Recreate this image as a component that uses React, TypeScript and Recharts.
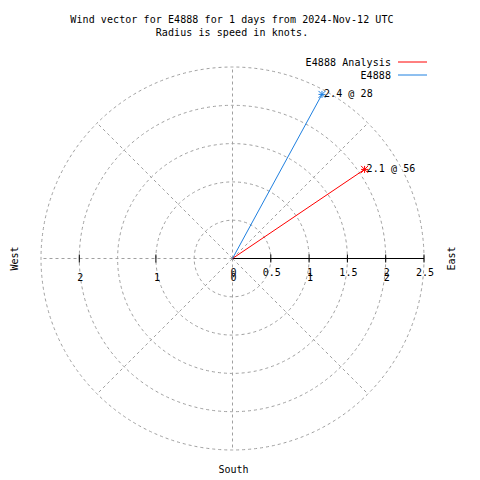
import React from 'react';
import * as R from 'recharts';

const { ScatterChart, Scatter, XAxis, YAxis } = R as any;

// ---- data ----
const seriesNames = ['E4888 Analysis', 'E4888'];
const seriesColors = ['#ff0000', '#1f80e0'];
const speeds = [2.08, 2.44]; // knots
const directions = [56, 28.6]; // degrees (compass, from north)
const ringValues = [0.5, 1, 1.5, 2, 2.5];
const spokeAngles = [0, 45, 90, 135, 180, 225, 270, 315];
const rTicks = [0.5, 1, 1.5, 2, 2.5];
const rTickLabels = ['0', '0.5', '1', '1.5', '2', '2.5'];
const rTickLabelValues = [0, 0.5, 1, 1.5, 2, 2.5];
const xTickValues = [-2, -1, 0, 1, 2];
const xTickLabels = ['2', '1', '0', '1', '2'];
const leftTicks = [-2, -1];
const titleLines = ['Wind vector for E4888 for 1 days from 2024-Nov-12 UTC', 'Radius is speed in knots.'];
const compass = { west: 'West', east: 'East', south: 'South' };

const RMAX = 2.5;
const W = 480;
const H = 480;
const MARGIN = { top: 67, right: 56, bottom: 30, left: 41 };
const FONT = '"DejaVu Sans Mono", "Liberation Mono", monospace';
const GRID = '#a0a0a0';

const vectors = speeds.map((s, i) => {
  const a = (directions[i] * Math.PI) / 180;
  return [
    { x: 0, y: 0 },
    {
      x: s * Math.sin(a),
      y: s * Math.cos(a),
      label: `${s.toFixed(1)} @ ${Math.trunc(directions[i])}`,
    },
  ];
});

function usePlot() {
  let area: any = null;
  try {
    const anyR = R as any;
    if (anyR.usePlotArea) area = anyR.usePlotArea();
  } catch (e) {
    area = null;
  }
  if (area && area.width) return area;
  return {
    x: MARGIN.left,
    y: MARGIN.top,
    width: W - MARGIN.left - MARGIN.right,
    height: H - MARGIN.top - MARGIN.bottom,
  };
}

function GridLayer() {
  const a = usePlot();
  const cx = a.x + a.width / 2;
  const cy = a.y + a.height / 2;
  const k = a.width / (2 * RMAX);
  const px = (v: number) => cx + v * k;
  const textStyle: any = { fontFamily: FONT, fontSize: 10, fill: '#000' };
  return (
    <g>
      {ringValues.map((r) => (
        <circle key={'c' + r} cx={cx} cy={cy} r={r * k} fill="none" stroke={GRID} strokeDasharray="3 3" />
      ))}
      {spokeAngles.map((ang) => {
        const t = (ang * Math.PI) / 180;
        return (
          <line
            key={'s' + ang}
            x1={cx}
            y1={cy}
            x2={cx + RMAX * k * Math.sin(t)}
            y2={cy - RMAX * k * Math.cos(t)}
            stroke={GRID}
            strokeDasharray="3 3"
          />
        );
      })}
      <line x1={cx} y1={cy} x2={px(RMAX)} y2={cy} stroke="#000" />
      {rTicks.map((t) => (
        <line key={'rt' + t} x1={px(t)} y1={cy - 4} x2={px(t)} y2={cy + 4} stroke="#000" />
      ))}
      {leftTicks.map((t) => (
        <line key={'lt' + t} x1={px(t)} y1={cy - 4} x2={px(t)} y2={cy + 4} stroke="#000" />
      ))}
      {rTickLabelValues.map((v, i) => (
        <text key={'rl' + i} x={px(v) + 1} y={cy + 14} textAnchor="middle" dominantBaseline="middle" style={textStyle}>
          {rTickLabels[i]}
        </text>
      ))}
      {xTickValues.map((v, i) => (
        <text key={'xl' + i} x={px(v) + 1} y={cy + 19} textAnchor="middle" dominantBaseline="middle" style={textStyle}>
          {xTickLabels[i]}
        </text>
      ))}
      {/* compass labels */}
      <text x={15} y={cy} textAnchor="middle" dominantBaseline="middle" transform={`rotate(-90 15 ${cy})`} style={textStyle}>
        {compass.west}
      </text>
      <text x={452} y={cy} textAnchor="middle" dominantBaseline="middle" transform={`rotate(-90 452 ${cy})`} style={textStyle}>
        {compass.east}
      </text>
      <text x={cx + 1} y={470} textAnchor="middle" dominantBaseline="middle" style={textStyle}>
        {compass.south}
      </text>
      {/* title */}
      {titleLines.map((t, i) => (
        <text key={'t' + i} x={232} y={20 + i * 13} textAnchor="middle" dominantBaseline="middle" style={{ ...textStyle, letterSpacing: 0.08 }}>
          {t}
        </text>
      ))}
      {/* legend */}
      {seriesNames.map((n, i) => (
        <g key={'lg' + i}>
          <text x={391} y={62.5 + i * 13} textAnchor="end" dominantBaseline="middle" style={{ ...textStyle, letterSpacing: 0.08 }}>
            {n}
          </text>
          <line x1={398} y1={62 + i * 13} x2={427} y2={62 + i * 13} stroke={seriesColors[i]} strokeWidth={1} />
        </g>
      ))}
    </g>
  );
}

function makeShape(color: string) {
  return (props: any) => {
    const { cx, cy, payload } = props;
    if (!payload || !payload.label) return <g />;
    const s = 3.5;
    return (
      <g>
        <line x1={cx - s} y1={cy} x2={cx + s} y2={cy} stroke={color} />
        <line x1={cx} y1={cy - s} x2={cx} y2={cy + s} stroke={color} />
        <line x1={cx - s} y1={cy - s} x2={cx + s} y2={cy + s} stroke={color} />
        <line x1={cx - s} y1={cy + s} x2={cx + s} y2={cy - s} stroke={color} />
        <text x={cx + 2} y={cy} dominantBaseline="middle" style={{ fontFamily: FONT, fontSize: 10, fill: '#000', letterSpacing: 0.08 }}>
          {payload.label}
        </text>
      </g>
    );
  };
}

export default function App() {
  return (
    <div style={{ position: 'absolute', left: 0, top: 0, width: W, height: H, background: '#fff' }}>
      <ScatterChart width={W} height={H} margin={MARGIN}>
        <XAxis type="number" dataKey="x" domain={[-RMAX, RMAX]} hide allowDataOverflow />
        <YAxis type="number" dataKey="y" domain={[-RMAX, RMAX]} hide allowDataOverflow />
        <GridLayer />
        {vectors.map((d, i) => (
          <Scatter
            key={seriesNames[i]}
            name={seriesNames[i]}
            data={d}
            fill={seriesColors[i]}
            line={{ stroke: seriesColors[i], strokeWidth: 1 }}
            lineType="joint"
            shape={makeShape(seriesColors[i])}
            isAnimationActive={false}
          />
        ))}
      </ScatterChart>
    </div>
  );
}
